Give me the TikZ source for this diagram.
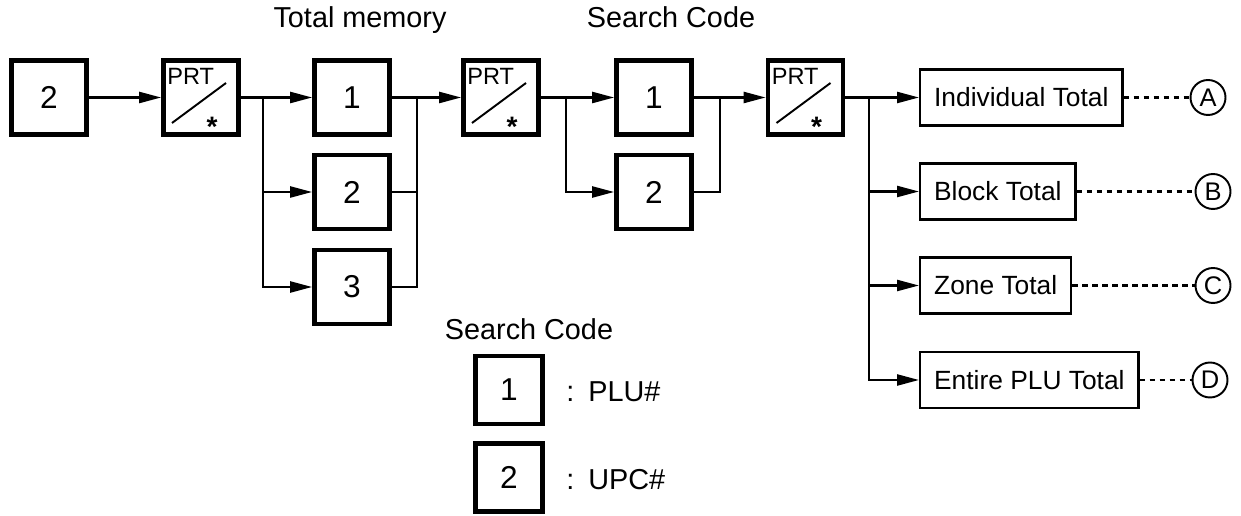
\documentclass[tikz,border=0pt]{standalone}
\usepackage{fontspec}
\setmainfont{Liberation Sans}
\usetikzlibrary{arrows.meta}

\begin{document}
\begin{tikzpicture}[
    x=0.02cm, y=-0.02cm,
    keybox/.style={rectangle, draw, line width=2.7pt, minimum width=1.5cm,
                   minimum height=1.48cm, inner sep=0pt, font=\fontsize{18}{20}\selectfont},
    smallkey/.style={keybox, minimum width=1.34cm, minimum height=1.36cm},
    totbox/.style={rectangle, draw, line width=1.3pt, anchor=west, minimum height=1.12cm,
                   inner xsep=0.28cm, font=\fontsize{15}{18}\selectfont},
    endmark/.style={circle, draw, line width=1.1pt, minimum size=0.7cm, inner sep=0pt,
                    font=\fontsize{14.5}{16}\selectfont},
    caption/.style={font=\fontsize{16.4}{19}\selectfont, anchor=base, inner sep=0pt},
    prtfont/.style={font=\fontsize{13.4}{15}\selectfont, inner sep=0pt},
    wire/.style={line width=1.35pt},
    arrow/.style={wire, -{Triangle[length=0.44cm, width=0.22cm]}},
    dots/.style={line width=1.3pt, dash pattern=on 0.11cm off 0.09cm}
]
\useasboundingbox (0,0) rectangle (1241,516);

% key sequence
\node[keybox] (k2) at (49,97.5) {2};
\node[keybox] (p1) at (201,97.5) {};
\node[keybox] (t1) at (352,97.5) {1};
\node[keybox] (t2) at (352,192) {2};
\node[keybox] (t3) at (352,287) {3};
\node[keybox] (p2) at (501,97.5) {};
\node[keybox] (s1) at (654,97.5) {1};
\node[keybox] (s2) at (654,192) {2};
\node[keybox] (p3) at (805.5,97.5) {};

% PRT/* key faces
\foreach \k in {p1,p2,p3} {
  \node[prtfont, anchor=base west] at ([shift={(-34,-12.5)}]\k.center) {PRT};
  \draw[line width=1.1pt] ([shift={(-29,25.5)}]\k.center) -- ([shift={(25,-14.5)}]\k.center);
  \node[prtfont, font=\fontsize{16}{17}\bfseries, anchor=base] at ([shift={(11,39)}]\k.center) {*};
}

\node[caption] (tmcap) at (360,28) {Total memory};
\node[caption] (sccap) at (671,28) {Search Code};

% results
\node[totbox] (r1) at (919,97.5) {Individual Total};
\node[totbox] (r2) at (919,191.5) {Block Total};
\node[totbox] (r3) at (919,285.5) {Zone Total};
\node[totbox] (r4) at (919,380) {Entire PLU Total};
\node[endmark] (ca) at (1208,97.5) {A};
\node[endmark] (cb) at (1213,191.5) {B};
\node[endmark] (cc) at (1213,285.5) {C};
\node[endmark] (cd) at (1210,380) {D};

\coordinate (sp1) at (263,97.5);
\coordinate (mg1) at (417,97.5);
\coordinate (sp2) at (566,97.5);
\coordinate (mg2) at (720,97.5);
\coordinate (sp3) at (869,97.5);

\draw[arrow] (k2) -- (p1);
\draw[arrow] (p1) -- (t1);
\draw[arrow] (sp1) |- (t2.west);
\draw[arrow] (sp1) |- (t3.west);
\draw[wire] (t2.east) -- (t2.east -| mg1);
\draw[wire] (t3.east) -| (mg1);
\draw[arrow] (t1) -- (p2);
\draw[arrow] (p2) -- (s1);
\draw[arrow] (sp2) |- (s2.west);
\draw[wire] (s2.east) -| (mg2);
\draw[arrow] (s1) -- (p3);
\draw[arrow] (p3.east) -- (r1.west);
\draw[arrow] (sp3) |- (r2.west);
\draw[arrow] (sp3) |- (r3.west);
\draw[arrow] (sp3) |- (r4.west);

\draw[dots] (r1) -- (ca);
\draw[dots] (r2) -- (cb);
\draw[dots] (r3) -- (cc);
\draw[dots] (r4) -- (cd);

% legend
\node[caption] (lgcap) at (529,340) {Search Code};
\node[smallkey] (lg1) at (509,390) {1};
\node[smallkey] (lg2) at (509,477.5) {2};
\node[caption, anchor=base west] (lg1txt) at (566,402) {:\hspace{0.28cm}PLU\#};
\node[caption, anchor=base west] (lg2txt) at (566,490) {:\hspace{0.28cm}UPC\#};
\end{tikzpicture}
\end{document}
